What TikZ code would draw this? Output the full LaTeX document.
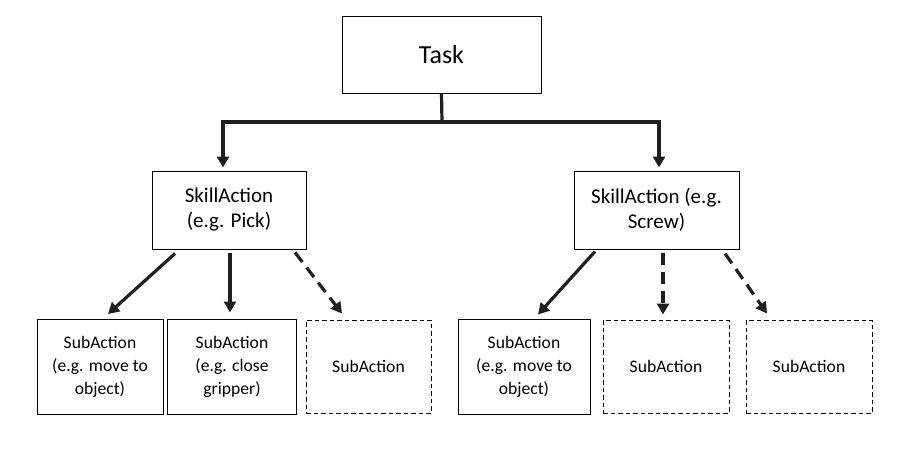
\documentclass[tikz,border=0pt]{standalone}
\usepackage{fontspec}
\setmainfont{Carlito}
\usetikzlibrary{arrows.meta}
\begin{document}
\begin{tikzpicture}[x=1pt,y=-1pt,
  box/.style={draw=black, line width=1pt, rectangle, inner sep=0pt, align=center},
  dbox/.style={box, dash pattern=on 4.5pt off 3pt},
  subfont/.style={font=\fontsize{17.6}{23}\selectfont},
  conn/.style={draw=black!88, line width=3.2pt},
  arr/.style={conn, -{Triangle[width=12pt,length=11pt]}},
  darr/.style={arr, dash pattern=on 12pt off 7pt}
]
\useasboundingbox (0,0) rectangle (903,450);
\node[box, minimum width=199pt, minimum height=77pt, font=\fontsize{26}{30}\selectfont] (task) at (441.5,54.5) {Task};
\node[box, minimum width=154pt, minimum height=78pt, font=\fontsize{21}{25}\selectfont] (skillL) at (229,210) {SkillAction\\(e.g. Pick)};
\node[box, minimum width=165pt, minimum height=78pt, font=\fontsize{21}{25}\selectfont] (skillR) at (656.5,210) {SkillAction (e.g.\\Screw)};
\node[box, subfont, minimum width=126pt, minimum height=95pt] (sub1) at (100,366.5) {SubAction\\(e.g. move to\\object)};
\node[box, subfont, minimum width=129pt, minimum height=95pt] (sub2) at (232,366.5) {SubAction\\(e.g. close\\gripper)};
\node[dbox, subfont, minimum width=125pt, minimum height=93pt] (sub3) at (368.5,366.5) {SubAction};
\node[box, subfont, minimum width=132pt, minimum height=95pt] (sub4) at (524,366.5) {SubAction\\(e.g. move to\\object)};
\node[dbox, subfont, minimum width=126pt, minimum height=93pt] (sub5) at (666,366.5) {SubAction};
\node[dbox, subfont, minimum width=126pt, minimum height=93pt] (sub6) at (809,366.5) {SubAction};
\coordinate (hub) at (442,122);
\draw[conn] (task.south) -- (hub);
\draw[arr] (hub) -| ([xshift=-6pt,yshift=3pt]skillL.north);
\draw[arr] (hub) -| ([xshift=2.5pt,yshift=3pt]skillR.north);
\draw[arr] ([xshift=-54pt,yshift=-4pt]skillL.south) -- ([xshift=8pt,yshift=4.5pt]sub1.north);
\draw[arr] ([xshift=1pt,yshift=-3pt]skillL.south) -- ([xshift=-2pt,yshift=6pt]sub2.north);
\draw[darr] ([xshift=66pt,yshift=-3pt]skillL.south) -- ([xshift=-26.5pt,yshift=6pt]sub3.north);
\draw[arr] ([xshift=-61.5pt,yshift=-2pt]skillR.south) -- ([xshift=14pt,yshift=4pt]sub4.north);
\draw[darr] ([xshift=6.5pt,yshift=-3pt]skillR.south) -- ([xshift=-3pt,yshift=5pt]sub5.north);
\draw[darr] ([xshift=68.5pt,yshift=-4pt]skillR.south) -- ([xshift=-42pt,yshift=6pt]sub6.north);
\end{tikzpicture}
\end{document}
